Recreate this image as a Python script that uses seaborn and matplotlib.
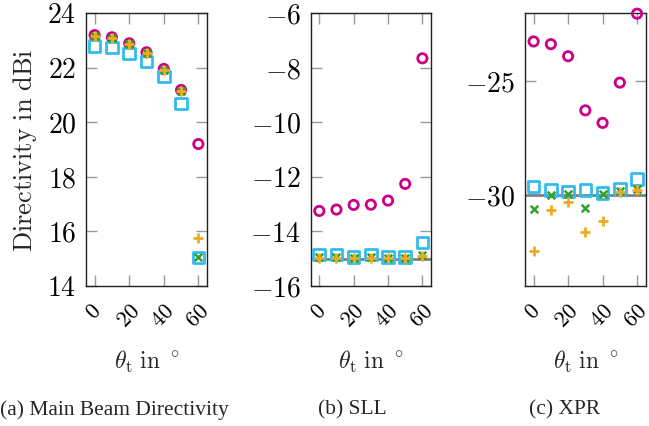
import numpy as np
import pandas as pd
import matplotlib
matplotlib.use("Agg")
import matplotlib.pyplot as plt
from matplotlib.ticker import FuncFormatter, FixedLocator
import seaborn as sns

sns.set_theme(style="white")
plt.rcParams['mathtext.fontset'] = 'cm'
plt.rcParams['font.family'] = ['Liberation Serif', 'DejaVu Serif']

theta = [0, 10, 20, 30, 40, 50, 60]

# Main beam directivity (dBi)
dir_circle = [23.19, 23.11, 22.89, 22.56, 21.95, 21.18, 19.20]
dir_square = [22.80, 22.73, 22.52, 22.23, 21.67, 20.69, 15.04]
dir_cross = [23.17, 23.09, 22.87, 22.54, 21.93, 21.15, 15.05]
dir_plus = [23.17, 23.09, 22.87, 22.54, 21.93, 21.15, 15.75]

# SLL (dB)
sll_circle = [-13.25, -13.20, -13.03, -13.02, -12.87, -12.26, -7.66]
sll_square = [-14.85, -14.85, -14.93, -14.85, -14.93, -14.93, -14.40]
sll_cross = [-14.95, -14.95, -14.97, -14.95, -14.97, -14.97, -14.85]
sll_plus = [-14.98, -14.98, -14.99, -14.98, -14.99, -14.98, -14.91]
sll_ref = -15

# XPR (dB)
xpr_circle = [-23.25, -23.37, -23.90, -26.28, -26.83, -25.06, -22.03]
xpr_square = [-29.63, -29.78, -29.85, -29.78, -29.91, -29.71, -29.31]
xpr_cross = [-30.60, -30.00, -29.95, -30.58, -29.97, -29.83, -29.72]
xpr_plus = [-32.47, -30.67, -30.29, -31.62, -31.13, -29.85, -29.78]
xpr_ref = -30

xticks = [0, 20, 40, 60]
captions = ["(a) Main Beam Directivity", "(b) SLL", "(c) XPR"]
caption_x = [114, 352, 565]

c_mag = "#CC0088"
c_cyan = "#33BBEE"
c_green = "#33A02C"
c_orange = "#EEAA22"

W, H = 649, 427
fig = plt.figure(figsize=(W / 100, H / 100), dpi=100)

def add_ax(l, r, t, b):
    return fig.add_axes([l / W, 1 - b / H, (r - l) / W, (b - t) / H])

axes = [add_ax(86, 207, 14, 287), add_ax(310.7, 431, 14, 287), add_ax(525, 645.7, 14, 287)]

panels = [
    (dir_circle, dir_square, dir_cross, dir_plus, None, (14, 24), [14, 16, 18, 20, 22, 24]),
    (sll_circle, sll_square, sll_cross, sll_plus, sll_ref, (-16, -6), [-16, -14, -12, -10, -8, -6]),
    (xpr_circle, xpr_square, xpr_cross, xpr_plus, xpr_ref, (-34, -22), [-30, -25]),
]

fmt = FuncFormatter(lambda v, p: f"${v:g}$")

for ax, (ci, sq, cr, pl, ref, ylim, yt), cap, cx in zip(axes, panels, captions, caption_x):
    if ref is not None:
        ax.axhline(ref, color="#808080", lw=2.0, zorder=1)
    sns.scatterplot(x=theta, y=ci, ax=ax, marker="o", s=45, facecolors="none",
                    edgecolor=c_mag, linewidth=2.0, zorder=3, clip_on=False)
    sns.scatterplot(x=theta, y=sq, ax=ax, marker="s", s=70, facecolors="none",
                    edgecolor=c_cyan, linewidth=2.0, zorder=4, clip_on=False)
    sns.scatterplot(x=theta, y=cr, ax=ax, marker="x", s=30, color=c_green,
                    linewidth=1.8, zorder=5, clip_on=False)
    sns.scatterplot(x=theta, y=pl, ax=ax, marker="+", s=55, color=c_orange,
                    linewidth=2.0, zorder=6, clip_on=False)
    ax.set_xlim(-5, 65)
    ax.set_ylim(*ylim)
    ax.xaxis.set_major_locator(FixedLocator(xticks))
    ax.yaxis.set_major_locator(FixedLocator(yt))
    ax.xaxis.set_major_formatter(fmt)
    ax.yaxis.set_major_formatter(fmt)
    ax.tick_params(direction="in", length=8, width=1, color="#999999",
                   top=True, right=True, bottom=True, left=True,
                   colors="#999999", labelcolor="black")
    ax.tick_params(axis="y", pad=7, labelsize=20)
    ax.tick_params(axis="x", pad=11, labelsize=16)
    for lab in ax.get_xticklabels():
        lab.set_rotation(45)
        lab.set_ha("center")
        lab.set_va("top")
    for sp in ax.spines.values():
        sp.set_color("#222222")
        sp.set_linewidth(1.0)
    ax.set_xlabel(r"$\theta_\mathrm{t}\ \mathrm{in}\ ^\circ$", fontsize=17, labelpad=12)
    ax.set_ylabel("")
    fig.text(cx / W, 1 - 410 / H, cap, ha="center", va="center",
             fontsize=15.5, family="Liberation Serif")

axes[0].set_ylabel(r"$\mathrm{Directivity\ in\ dBi}$", fontsize=19, labelpad=6)

fig.savefig("out.png", dpi=100)
